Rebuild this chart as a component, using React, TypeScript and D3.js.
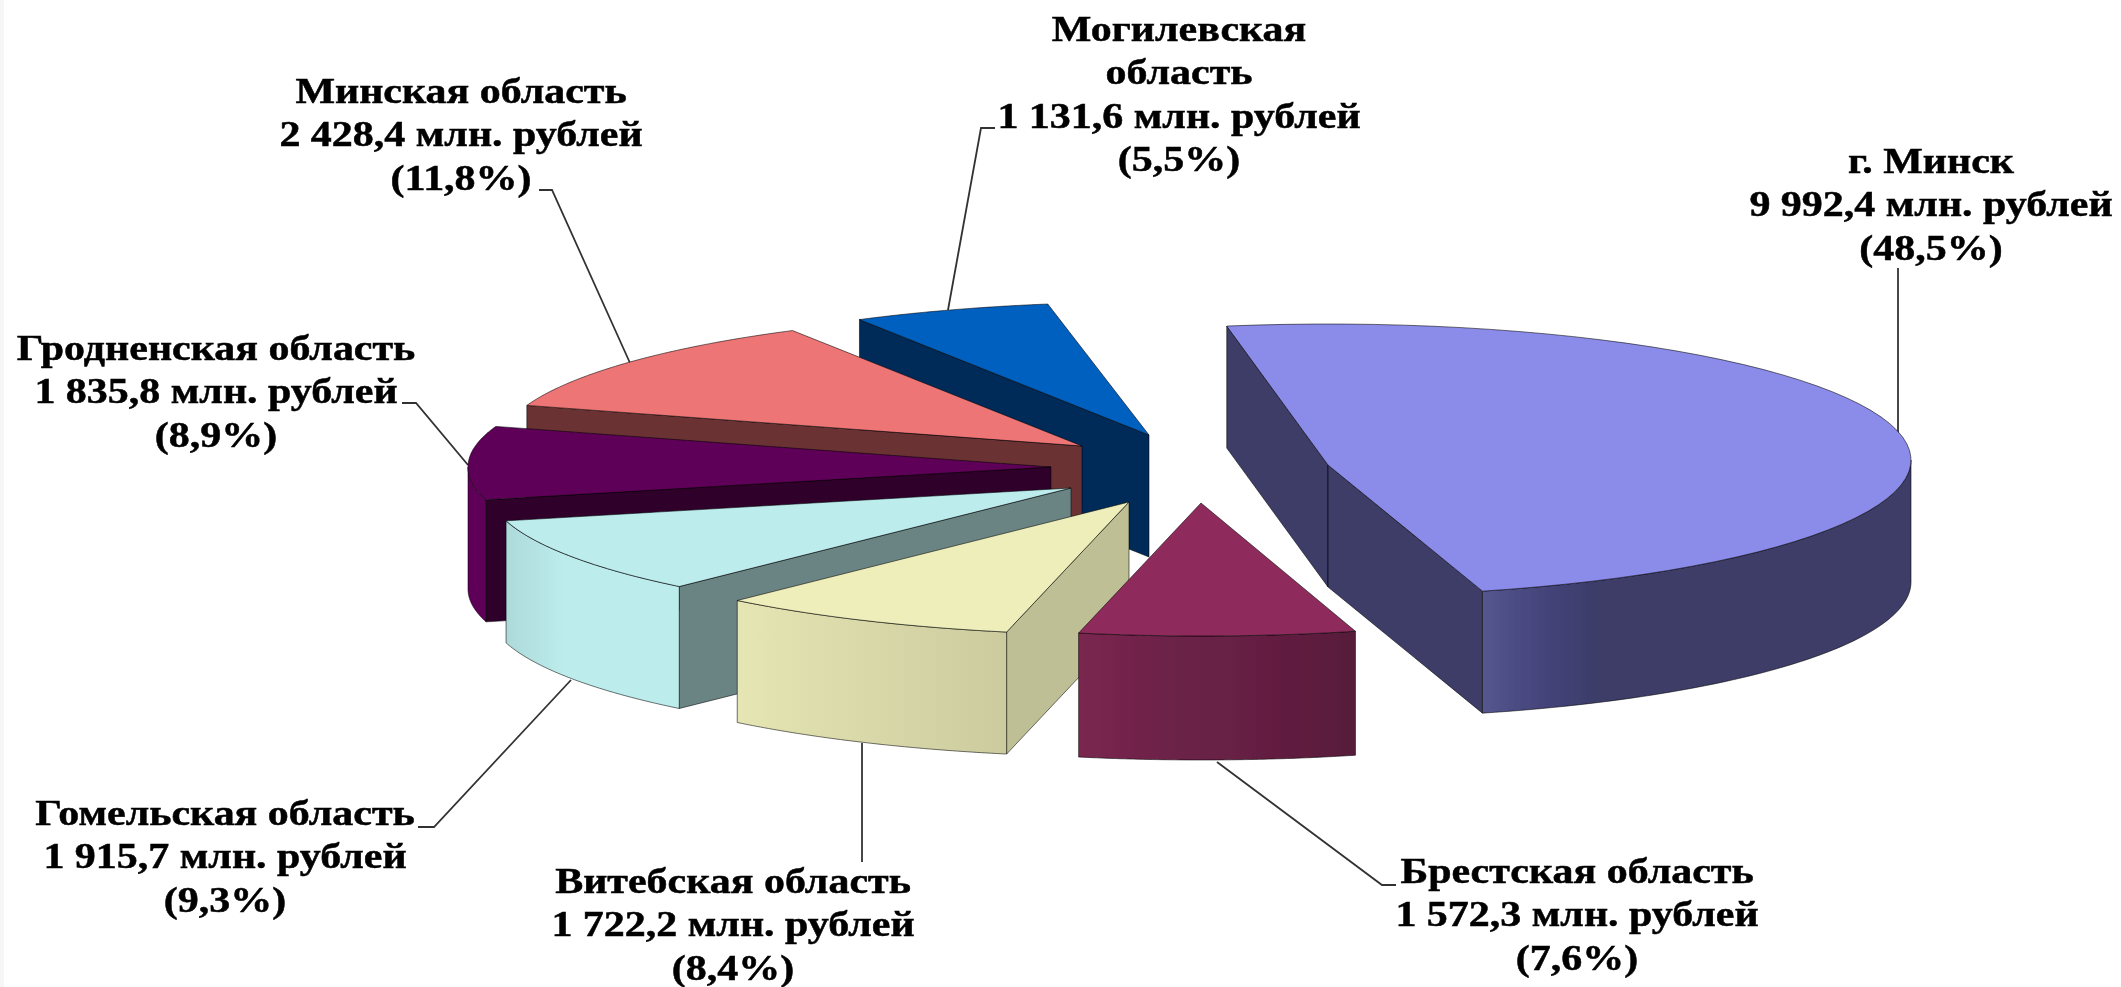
import React from "react";
import * as d3 from "d3";

const width = 2121;
const height = 987;

// Data, clockwise from the first slice
const regions = [
  "г. Минск",
  "Брестская область",
  "Витебская область",
  "Гомельская область",
  "Гродненская область",
  "Минская область",
  "Могилевская область",
];
const values = [9992.4, 1572.3, 1722.2, 1915.7, 1835.8, 2428.4, 1131.6];
const valueLabels = ["9 992,4", "1 572,3", "1 722,2", "1 915,7", "1 835,8", "2 428,4", "1 131,6"];
const shareLabels = ["48,5", "7,6", "8,4", "9,3", "8,9", "11,8", "5,5"];
const unit = "млн. рублей";

// Pie layout
const firstAngle = (-10 * Math.PI) / 180;
const radiusX = 583;
const radiiY = [136, 133, 133, 133, 133, 133, 133];
const depths = [122, 124, 122, 122, 122, 122, 122];
const centers = [
  [1328, 460],
  [1201, 503],
  [1129, 502],
  [1071, 488],
  [1051, 467],
  [1082, 446],
  [1149, 435],
];
const apexDrop = [5, 0, 0, 0, 0, 0, 0];

// Colours for each slice
const topColors = ["#8b8bea", "#8e2c5c", "#eeeebb", "#bcecec", "#5e0058", "#ee7575", "#0060c0"];
const cutColors = ["#3c3c68", "#581b3a", "#bfbf96", "#6a8484", "#2f002c", "#6a3333", "#002a58"];
const wallStops = [
  ["#565690", "#44447a", "#3c3c68", "#3c3c68"],
  ["#7a2650", "#6c2248", "#641f42", "#581b3a"],
  ["#e6e6b4", "#dcdcac", "#d4d4a6", "#cbcb9e"],
  ["#add9d9", "#bcecec", "#bcecec", "#bcecec"],
  ["#5e0058", "#5e0058", "#5e0058", "#5e0058"],
  ["#ee7575", "#ee7575", "#ee7575", "#ee7575"],
  ["#0060c0", "#0060c0", "#0060c0", "#0060c0"],
];

// Labels: text block centre, first baseline, leader polyline
const labelX = [1931, 1577, 733, 225, 216, 461, 1179];
const labelY = [173, 883, 893, 825, 360, 103, 41];
const leaders = [
  [[1898, 268], [1898, 433]],
  [[1396, 885], [1382, 885], [1217, 762]],
  [[862, 862], [862, 743]],
  [[418, 827], [434, 827], [571, 680]],
  [[402, 403], [416, 403], [468, 465]],
  [[539, 190], [552, 190], [630, 363]],
  [[995, 128], [981, 128], [948, 310]],
];
const lineStep = 43.5;
const fontSize = 36;
const textStretch = 1.166; // the source image is stretched sideways

const arcs = d3
  .pie<number>()
  .sort(null)
  .startAngle(firstAngle)
  .endAngle(firstAngle + 2 * Math.PI)(values);

const sx = d3.scaleLinear().domain([-1, 1]).range([-radiusX, radiusX]);
const line = d3.line();

// point on a slice rim; angle is clockwise from the top
const rim = (i: number, a: number, drop = 0): [number, number] => [
  centers[i][0] + sx(Math.sin(a)),
  centers[i][1] - radiiY[i] * Math.cos(a) + drop,
];

const sweep = (i: number, a0: number, a1: number, drop = 0) =>
  d3.range(0, 61).map((k) => rim(i, a0 + ((a1 - a0) * k) / 60, drop));

const apex = (i: number): [number, number] => [centers[i][0], centers[i][1] + apexDrop[i]];

const topPath = (i: number) => {
  const a = arcs[i];
  return line([apex(i), ...sweep(i, a.startAngle, a.endAngle)]) + "Z";
};

const cutPath = (i: number, angle: number) => {
  const [cx, cy] = apex(i);
  const p = rim(i, angle);
  return line([[cx, cy], p, [p[0], p[1] + depths[i]], [cx, cy + depths[i]]]) + "Z";
};

// outer wall only exists on the front half of the ellipse
const wallPath = (i: number) => {
  const lo = Math.max(arcs[i].startAngle, Math.PI / 2);
  const hi = Math.min(arcs[i].endAngle, (3 * Math.PI) / 2);
  if (hi <= lo) return null;
  return line([...sweep(i, lo, hi), ...sweep(i, hi, lo, depths[i])]) + "Z";
};

const edge = { stroke: "#000", strokeOpacity: 0.55, strokeWidth: 1, strokeLinejoin: "round" as const };

const labelLines = (i: number) => {
  const name = regions[i];
  const head = i === 6 ? ["Могилевская", "область"] : [name];
  return [...head, `${valueLabels[i]} ${unit}`, `(${shareLabels[i]}%)`];
};

const App = () => {
  // far slices first so the near ones cover them
  const order = [6, 5, 4, 3, 2, 1, 0];
  return (
    <svg width={width} height={height} style={{ position: "absolute", left: 0, top: 0, background: "#fff" }}>
      <defs>
        {wallStops.map((stops, i) => (
          <linearGradient key={i} id={`wall-${i}`} x1="0" x2="1" y1="0" y2="0">
            {stops.map((c, k) => (
              <stop key={k} offset={k === 3 ? 1 : k * (i === 0 ? 0.14 : 0.33)} stopColor={c} />
            ))}
          </linearGradient>
        ))}
        <filter id="soft" x="-5%" y="-5%" width="110%" height="110%">
          <feGaussianBlur stdDeviation="0.6" />
        </filter>
      </defs>
      <rect x={0} y={0} width={4} height={height} fill="#f6f6f6" />
      <g filter="url(#soft)">
        {leaders.map((pts, i) => (
          <path key={i} d={line(pts as [number, number][]) ?? ""} fill="none" stroke="#333" strokeWidth={1.8} />
        ))}
        {order.map((i) => {
          const a = arcs[i];
          const wall = wallPath(i);
          return (
            <g key={i}>
              {Math.sin(a.startAngle) < 0 && <path d={cutPath(i, a.startAngle)} fill={cutColors[i]} {...edge} />}
              {Math.sin(a.endAngle) > 0 && <path d={cutPath(i, a.endAngle)} fill={cutColors[i]} {...edge} />}
              {wall && <path d={wall} fill={`url(#wall-${i})`} {...edge} />}
              <path d={topPath(i)} fill={topColors[i]} {...edge} />
            </g>
          );
        })}
        {regions.map((_, i) => (
          <text
            key={i}
            transform={`translate(${labelX[i]},${labelY[i]}) scale(${textStretch},1)`}
            fontFamily="'Liberation Serif', serif"
            fontWeight="bold"
            fontSize={fontSize}
            textAnchor="middle"
            fill="#000"
            stroke="#000"
            strokeWidth={0.5}
          >
            {labelLines(i).map((t, k) => (
              <tspan key={k} x={0} y={k * lineStep}>
                {t}
              </tspan>
            ))}
          </text>
        ))}
      </g>
    </svg>
  );
};

export default App;
